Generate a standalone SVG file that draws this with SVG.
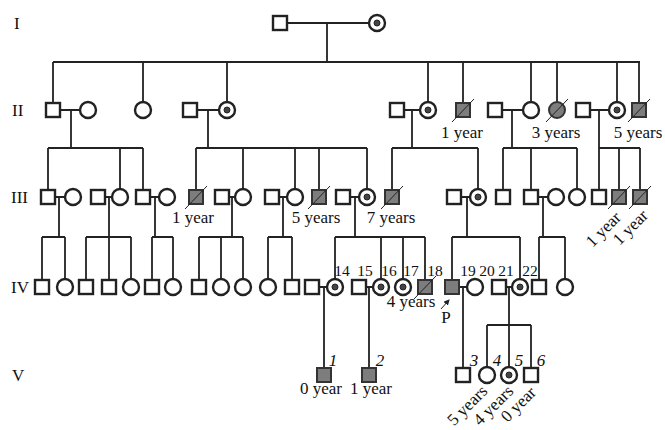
<svg xmlns="http://www.w3.org/2000/svg" width="665" height="430" viewBox="0 0 665 430">
<style>
.m{fill:#fff;stroke:#222;stroke-width:2.4}
.a{fill:#7d7d7d;stroke:#333;stroke-width:2}
.c{fill:#fff;stroke:#222;stroke-width:2.4}
.d{fill:#444;stroke:#222;stroke-width:1}
.ln{stroke:#222;stroke-width:1.8;fill:none}
.sl{stroke:#222;stroke-width:1;fill:none}
text{font-family:"Liberation Serif",serif;font-size:17px;fill:#111}
.n{font-style:italic}
.num{font-size:15.5px}
</style>
<defs>
<marker id="ah" markerWidth="6" markerHeight="6" refX="5" refY="3" orient="auto" markerUnits="userSpaceOnUse">
<path d="M0,0 L6,3 L0,6 Z" fill="#222"/>
</marker>
</defs>
<rect width="665" height="430" fill="#fff"/>
<g id="gen-labels">
<text x="14" y="29">I</text>
<text x="12" y="116">II</text>
<text x="11" y="203">III</text>
<text x="11" y="293">IV</text>
<text x="12" y="381">V</text>
</g>
<g id="connectors" class="ln">
<path d="M287 23H369M327 23V62M53 62H640"/>
<path d="M53 62V103M143 62V102M227 62V102M428 62V102M463 62V103M531 62V102M557 62V102M617 62V102M639 62V103"/>
<path d="M60 110H80M71 110V148M48 148H143"/>
<path d="M197 110H219M208 110V148M196 148H367"/>
<path d="M404 110H420M412 110V148M392 148H478"/>
<path d="M502 110H523M512 110V148M503 148H577"/>
<path d="M590 110H609M599 110V148M599 148H640"/>
<path d="M48 148V190M120 148V189M143 148V190M196 148V190M243 148V189M295 148V189M319 148V190M367 148V189M392 148V190M478 148V189M503 148V190M531 148V190M577 148V189M599 148V190M619 148V190M640 148V190"/>
<path d="M55 197H65M59 197V237M42 237H65"/>
<path d="M105 197H112M109 197V237M86 237H131"/>
<path d="M150 197H159M155 197V237M152 237H173"/>
<path d="M229 197H235M232 197V237M199 237H243"/>
<path d="M279 197H287M283 197V237M268 237H292"/>
<path d="M350 197H359M355 197V237M335 237H425"/>
<path d="M461 197H470M467 197V237M452 237H520"/>
<path d="M538 197H548M543 197V237M539 237H565"/>
<path d="M42 237V280M65 237V279M86 237V280M109 237V280M131 237V279M152 237V280M173 237V279M199 237V280M221 237V279M243 237V279M268 237V279M292 237V280M335 237V279M381 237V279M403 237V279M425 237V280M452 237V280M520 237V279M539 237V280M565 237V279"/>
<path d="M319 287H327M324 287V368"/>
<path d="M366 287H373M369 287V368"/>
<path d="M459 287H467M463 287V368"/>
<path d="M506 287H512M509 287V325M487 325H531M487 325V367M509 325V367M531 325V368"/>
</g>
<g id="I-1"><rect class="m" x="273" y="16" width="14" height="14"/></g>
<g id="I-2"><circle class="c" cx="377" cy="23" r="8"/><circle class="d" cx="377" cy="23" r="3"/></g>
<g id="II-1"><rect class="m" x="46" y="103" width="14" height="14"/></g>
<g id="II-2"><circle class="c" cx="88" cy="110" r="8"/></g>
<g id="II-3"><circle class="c" cx="143" cy="110" r="8"/></g>
<g id="II-4"><rect class="m" x="183" y="103" width="14" height="14"/></g>
<g id="II-5"><circle class="c" cx="227" cy="110" r="8"/><circle class="d" cx="227" cy="110" r="3"/></g>
<g id="II-6"><rect class="m" x="390" y="103" width="14" height="14"/></g>
<g id="II-7"><circle class="c" cx="428" cy="110" r="8"/><circle class="d" cx="428" cy="110" r="3"/></g>
<g id="II-8"><rect class="a" x="456" y="103" width="14" height="14"/><path class="sl" d="M452 122L474 99"/><text x="462" y="138" text-anchor="middle">1 year</text></g>
<g id="II-9"><rect class="m" x="488" y="103" width="14" height="14"/></g>
<g id="II-10"><circle class="c" cx="531" cy="110" r="8"/></g>
<g id="II-11"><circle class="a" cx="557" cy="110" r="8"/><path class="sl" d="M546 122L568 99"/><text x="556" y="138" text-anchor="middle">3 years</text></g>
<g id="II-12"><rect class="m" x="576" y="103" width="14" height="14"/></g>
<g id="II-13"><circle class="c" cx="617" cy="110" r="8"/><circle class="d" cx="617" cy="110" r="3"/></g>
<g id="II-14"><rect class="a" x="632" y="103" width="14" height="14"/><path class="sl" d="M628 122L650 99"/><text x="638" y="138" text-anchor="middle">5 years</text></g>
<g id="III-1"><rect class="m" x="41" y="190" width="14" height="14"/></g>
<g id="III-2"><circle class="c" cx="73" cy="197" r="8"/></g>
<g id="III-3"><rect class="m" x="91" y="190" width="14" height="14"/></g>
<g id="III-4"><circle class="c" cx="120" cy="197" r="8"/></g>
<g id="III-5"><rect class="m" x="136" y="190" width="14" height="14"/></g>
<g id="III-6"><circle class="c" cx="167" cy="197" r="8"/></g>
<g id="III-7"><rect class="a" x="189" y="190" width="14" height="14"/><path class="sl" d="M185 209L207 186"/><text x="193" y="223" text-anchor="middle">1 year</text></g>
<g id="III-8"><rect class="m" x="215" y="190" width="14" height="14"/></g>
<g id="III-9"><circle class="c" cx="243" cy="197" r="8"/></g>
<g id="III-10"><rect class="m" x="265" y="190" width="14" height="14"/></g>
<g id="III-11"><circle class="c" cx="295" cy="197" r="8"/></g>
<g id="III-12"><rect class="a" x="312" y="190" width="14" height="14"/><path class="sl" d="M308 209L330 186"/><text x="316" y="223" text-anchor="middle">5 years</text></g>
<g id="III-13"><rect class="m" x="336" y="190" width="14" height="14"/></g>
<g id="III-14"><circle class="c" cx="367" cy="197" r="8"/><circle class="d" cx="367" cy="197" r="3"/></g>
<g id="III-15"><rect class="a" x="385" y="190" width="14" height="14"/><path class="sl" d="M381 209L403 186"/><text x="391" y="223" text-anchor="middle">7 years</text></g>
<g id="III-16"><rect class="m" x="447" y="190" width="14" height="14"/></g>
<g id="III-17"><circle class="c" cx="478" cy="197" r="8"/><circle class="d" cx="478" cy="197" r="3"/></g>
<g id="III-18"><rect class="m" x="496" y="190" width="14" height="14"/></g>
<g id="III-19"><rect class="m" x="524" y="190" width="14" height="14"/></g>
<g id="III-20"><circle class="c" cx="556" cy="197" r="8"/></g>
<g id="III-21"><circle class="c" cx="577" cy="197" r="8"/></g>
<g id="III-22"><rect class="m" x="592" y="190" width="14" height="14"/></g>
<g id="III-23"><rect class="a" x="612" y="190" width="14" height="14"/><path class="sl" d="M608 209L630 186"/><text x="603" y="235" text-anchor="middle" transform="rotate(-45 603 229)">1 year</text></g>
<g id="III-24"><rect class="a" x="633" y="190" width="14" height="14"/><path class="sl" d="M629 209L651 186"/><text x="630" y="233" text-anchor="middle" transform="rotate(-45 630 227)">1 year</text></g>
<g id="IV-1"><rect class="m" x="35" y="280" width="14" height="14"/></g>
<g id="IV-2"><circle class="c" cx="65" cy="287" r="8"/></g>
<g id="IV-3"><rect class="m" x="79" y="280" width="14" height="14"/></g>
<g id="IV-4"><rect class="m" x="102" y="280" width="14" height="14"/></g>
<g id="IV-5"><circle class="c" cx="131" cy="287" r="8"/></g>
<g id="IV-6"><rect class="m" x="145" y="280" width="14" height="14"/></g>
<g id="IV-7"><circle class="c" cx="173" cy="287" r="8"/></g>
<g id="IV-8"><rect class="m" x="192" y="280" width="14" height="14"/></g>
<g id="IV-9"><circle class="c" cx="221" cy="287" r="8"/></g>
<g id="IV-10"><circle class="c" cx="243" cy="287" r="8"/></g>
<g id="IV-11"><circle class="c" cx="268" cy="287" r="8"/></g>
<g id="IV-12"><rect class="m" x="285" y="280" width="14" height="14"/></g>
<g id="IV-13"><rect class="m" x="305" y="280" width="14" height="14"/></g>
<g id="IV-14"><circle class="c" cx="335" cy="287" r="8"/><circle class="d" cx="335" cy="287" r="3"/><text class="num" x="342" y="276" text-anchor="middle">14</text></g>
<g id="IV-15"><rect class="m" x="352" y="280" width="14" height="14"/><text class="num" x="365" y="276" text-anchor="middle">15</text></g>
<g id="IV-16"><circle class="c" cx="381" cy="287" r="8"/><circle class="d" cx="381" cy="287" r="3"/><text class="num" x="389" y="276" text-anchor="middle">16</text></g>
<g id="IV-17"><circle class="c" cx="403" cy="287" r="8"/><circle class="d" cx="403" cy="287" r="3"/><text class="num" x="411" y="276" text-anchor="middle">17</text></g>
<g id="IV-18"><rect class="a" x="418" y="280" width="14" height="14"/><path class="sl" d="M414 299L436 276"/><text class="num" x="435" y="276" text-anchor="middle">18</text><text x="411" y="307" text-anchor="middle">4 years</text></g>
<g id="IV-19"><rect class="a" x="445" y="280" width="14" height="14"/><path class="sl" d="M441 309L449 300" marker-end="url(#ah)"/><text x="446" y="323" text-anchor="middle">P</text><text class="num" x="468" y="276" text-anchor="middle">19</text></g>
<g id="IV-20"><circle class="c" cx="475" cy="287" r="8"/><text class="num" x="487" y="276" text-anchor="middle">20</text></g>
<g id="IV-21"><rect class="m" x="492" y="280" width="14" height="14"/><text class="num" x="506" y="276" text-anchor="middle">21</text></g>
<g id="IV-22"><circle class="c" cx="520" cy="287" r="8"/><circle class="d" cx="520" cy="287" r="3"/><text class="num" x="530" y="276" text-anchor="middle">22</text></g>
<g id="IV-23"><rect class="m" x="532" y="280" width="14" height="14"/></g>
<g id="IV-24"><circle class="c" cx="565" cy="287" r="8"/></g>
<g id="V-1"><rect class="a" x="317" y="368" width="14" height="14"/><text class="n" x="333" y="366" text-anchor="middle">1</text><text x="321" y="394" text-anchor="middle">0 year</text></g>
<g id="V-2"><rect class="a" x="362" y="368" width="14" height="14"/><text class="n" x="380" y="366" text-anchor="middle">2</text><text x="371" y="394" text-anchor="middle">1 year</text></g>
<g id="V-3"><rect class="m" x="456" y="368" width="14" height="14"/><text class="n" x="474" y="366" text-anchor="middle">3</text><text x="467" y="411" text-anchor="middle" transform="rotate(-45 467 405)">5 years</text></g>
<g id="V-4"><circle class="c" cx="487" cy="375" r="8"/><text class="n" x="497" y="366" text-anchor="middle">4</text><text x="493" y="411" text-anchor="middle" transform="rotate(-45 493 405)">4 years</text></g>
<g id="V-5"><circle class="c" cx="509" cy="375" r="8"/><circle class="d" cx="509" cy="375" r="3"/><text class="n" x="519" y="366" text-anchor="middle">5</text><text x="518" y="410" text-anchor="middle" transform="rotate(-45 518 404)">0 year</text></g>
<g id="V-6"><rect class="m" x="524" y="368" width="14" height="14"/><text class="n" x="541" y="366" text-anchor="middle">6</text></g>
</svg>
